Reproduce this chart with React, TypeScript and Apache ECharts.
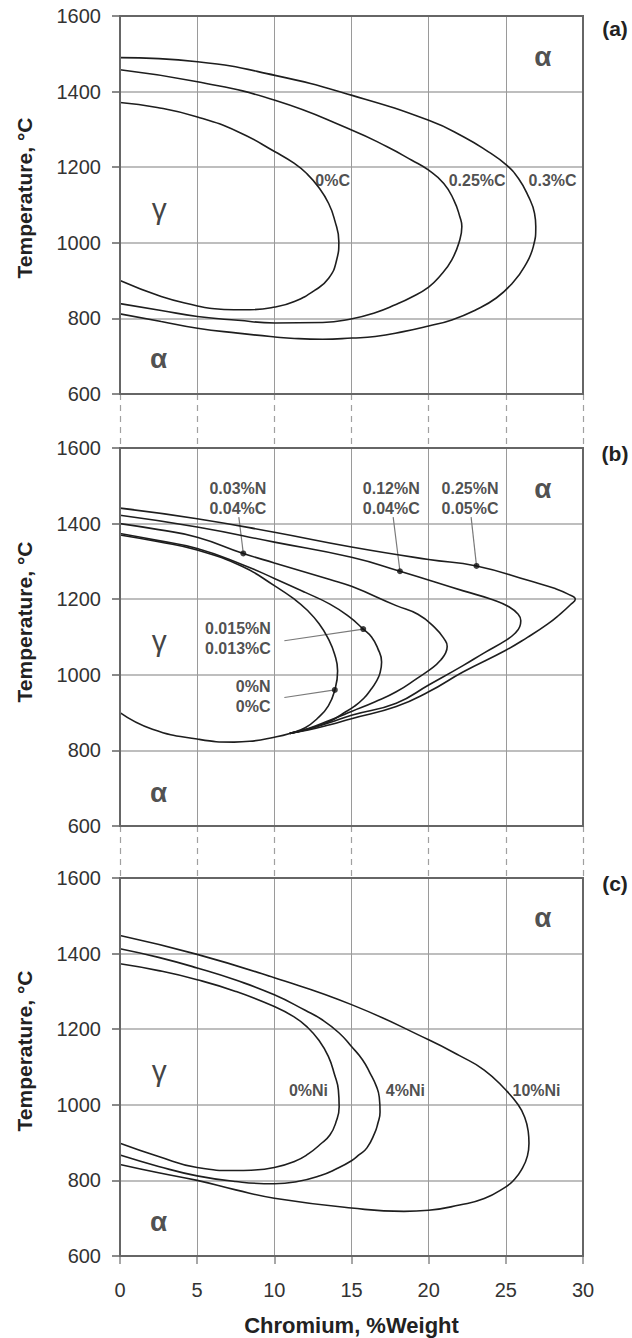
import React, { useEffect, useRef } from "react";
import * as echarts from "echarts";

type Pt = [number, number];
type Lbl = [number, number, string];

// Shared axis ranges: chromium content (wt%) vs temperature (°C)
const X_MIN = 0;
const X_MAX = 30;
const X_STEP = 5;
const T_MIN = 600;
const T_MAX = 1600;
const T_STEP = 200;

// (a) gamma loop boundaries for different carbon contents
const carbon0: Pt[] = [[0, 1371], [2.41, 1358], [5.02, 1333], [7.64, 1294], [10.04, 1241], [11.3, 1210], [12.08, 1184], [12.87, 1147], [13.52, 1104], [13.91, 1060], [14.18, 1003], [14.04, 955], [13.52, 906], [12.61, 874], [11.3, 845], [10.04, 830], [8.42, 823], [7.38, 823], [5.81, 827], [5.02, 833], [2.67, 858], [0, 900]];
const carbon025: Pt[] = [[0, 1458], [5.02, 1426], [10.04, 1377], [15.04, 1298], [17.31, 1254], [18.88, 1219], [20, 1192], [20.98, 1157], [21.63, 1113], [22.02, 1069], [22.15, 1043], [22.02, 1008], [21.5, 955], [20.71, 911], [20, 883], [18.88, 856], [17.84, 836], [16.53, 815], [15.04, 799], [13.13, 789], [10.04, 788], [7.64, 795], [5.02, 805], [2.67, 821], [0, 839]];
const carbon03: Pt[] = [[0, 1490], [5.02, 1479], [10.04, 1443], [15.04, 1390], [20, 1324], [22.28, 1280], [23.85, 1241], [25.03, 1206], [25.82, 1170], [26.47, 1122], [26.86, 1078], [26.94, 1043], [26.78, 990], [26.21, 937], [25.42, 893], [24.38, 854], [23.07, 823], [21.5, 796], [20, 780], [18.36, 765], [16.53, 752], [15.04, 748], [13.13, 745], [11.3, 747], [10.04, 751], [7.64, 761], [5.02, 774], [2.67, 792], [0, 812]];
const carbonLabels: Lbl[] = [[13.78, 1166, "0%C"], [23.14, 1166, "0.25%C"], [28.03, 1166, "0.3%C"]];

// (b) gamma loop boundaries for nitrogen + carbon additions
const nitro0: Pt[] = [[0, 1370], [2.5, 1352], [5, 1330], [7.9, 1287], [10, 1236], [11.3, 1200], [12.1, 1172], [12.9, 1135], [13.5, 1095], [13.9, 1055], [14.1, 1010], [13.92, 960], [13.5, 918], [12.8, 885], [12, 860], [11, 845], [10, 835], [8.4, 824], [7.4, 822], [5, 830], [2.1, 856], [0, 900]];
const nitro015: Pt[] = [[0, 1374], [2.5, 1355], [5, 1334], [7.9, 1292], [10, 1255], [12, 1218], [13.6, 1187], [14.8, 1155], [15.76, 1121], [16.3, 1100], [16.7, 1070], [16.95, 1034], [16.85, 1005], [16.6, 982], [16.2, 958], [15.8, 938], [15.2, 917], [14.5, 899], [13.6, 877], [12.3, 858], [11, 845]];
const nitro03: Pt[] = [[0, 1400], [2.5, 1384], [5, 1364], [7.99, 1321], [10, 1296], [13.6, 1252], [15, 1234], [17.9, 1183], [19.3, 1160], [20.4, 1125], [21.0, 1095], [21.2, 1075], [21.1, 1058], [20.8, 1040], [20.3, 1020], [19.3, 992], [17.9, 955], [16.5, 928], [15, 903], [13.6, 880], [12.2, 858], [11, 845]];
const nitro12: Pt[] = [[0, 1422], [5, 1391], [10, 1351], [15, 1311], [18.14, 1274], [22.25, 1222], [24.2, 1198], [25.2, 1180], [25.8, 1160], [25.97, 1143], [25.9, 1127], [25.6, 1110], [25, 1091], [23.6, 1058], [22.25, 1025], [20, 973], [17.9, 925], [15, 893], [13.6, 874], [12.2, 856], [11, 845]];
const nitro25: Pt[] = [[0, 1441], [5, 1413], [10, 1377], [15, 1338], [20, 1305], [23.1, 1288], [26.6, 1248], [28.2, 1228], [29.0, 1214], [29.5, 1200], [29.2, 1186], [28.5, 1160], [27.7, 1134], [26.4, 1099], [25, 1065], [22.25, 1008], [20, 955], [17.9, 916], [15, 884], [13.6, 868], [12.2, 854], [11, 845]];
const nitroDots: Pt[] = [[7.99, 1321], [18.14, 1274], [23.1, 1288], [15.76, 1121], [13.92, 960]];
const nitroLeaders: [Pt, Pt][] = [
  [[7.7, 1417], [7.99, 1321]],
  [[17.7, 1417], [18.14, 1274]],
  [[22.75, 1417], [23.1, 1288]],
  [[10.65, 1090], [15.76, 1121]],
  [[10.65, 940], [13.92, 960]],
];
const nitroLabels: Lbl[] = [
  [7.64, 1466, "0.03%N\n0.04%C"],
  [17.58, 1466, "0.12%N\n0.04%C"],
  [22.68, 1466, "0.25%N\n0.05%C"],
  [7.64, 1095, "0.015%N\n0.013%C"],
  [8.63, 942, "0%N\n0%C"],
];

// (c) gamma loop boundaries for nickel additions
const nickel0: Pt[] = [[0, 1373], [2.5, 1355], [5, 1331], [7.5, 1300], [10, 1260], [11.3, 1232], [12.1, 1207], [12.9, 1170], [13.5, 1128], [13.9, 1080], [14.15, 1039], [14.2, 995], [14.0, 955], [13.6, 920], [12.96, 895], [12.2, 870], [11.3, 850], [10, 834], [8.5, 827], [7.5, 826], [5, 834], [2.5, 863], [0, 898]];
const nickel4: Pt[] = [[0, 1413], [2.5, 1390], [5, 1362], [7.5, 1330], [10, 1291], [12, 1250], [13.1, 1225], [14.2, 1190], [15, 1154], [15.7, 1120], [16.2, 1084], [16.6, 1050], [16.8, 1020], [16.85, 981], [16.7, 950], [16.5, 925], [16, 886], [15.5, 868], [15, 852], [14, 830], [13, 813], [11.5, 797], [10, 791], [7.5, 797], [5, 812], [2.5, 837], [0, 867]];
const nickel10: Pt[] = [[0, 1448], [5, 1398], [10, 1336], [15, 1265], [20, 1172], [22, 1130], [23.6, 1092], [25, 1039], [25.8, 1000], [26.2, 969], [26.45, 930], [26.5, 898], [26.4, 865], [26, 827], [25.5, 800], [25, 783], [23.6, 752], [22, 735], [20, 721], [18.4, 718], [15, 727], [10, 753], [7.5, 775], [5, 800], [2.5, 820], [0, 842]];
const nickelLabels: Lbl[] = [[12.21, 1039, "0%Ni"], [18.49, 1039, "4%Ni"], [26.99, 1039, "10%Ni"]];

// Phase-field symbols in each panel
const phaseLabels: Lbl[][] = [
  [[27.4, 1492, "α"], [2.54, 1091, "γ"], [2.5, 695, "α"]],
  [[27.4, 1492, "α"], [2.54, 1090, "γ"], [2.5, 688, "α"]],
  [[27.4, 1495, "α"], [2.54, 1092, "γ"], [2.5, 690, "α"]],
];
const panelTags = ["(a)", "(b)", "(c)"];
const yTitle = "Temperature, °C";
const xTitle = "Chromium, %Weight";

// Layout
const WIDTH = 632;
const HEIGHT = 1338;
const GRID_LEFT = 120;
const GRID_W = 463;
const GRID_H = 378;
const GRID_TOPS = [16, 448, 878];
const Y_TITLE_CENTERS = [198, 622, 1051];
const TAG_Y = [28, 453, 883];
const FONT = '"Liberation Sans", Arial, sans-serif';
const INK = "#1e1e1e";

function curve(data: Pt[], gi: number) {
  return {
    type: "line",
    data,
    xAxisIndex: gi,
    yAxisIndex: gi,
    smooth: 0.5,
    symbol: "none",
    silent: true,
    z: 3,
    lineStyle: { color: INK, width: 1.6 },
  };
}

function textSeries(items: Lbl[], gi: number, font: Record<string, unknown>) {
  return {
    type: "scatter",
    xAxisIndex: gi,
    yAxisIndex: gi,
    silent: true,
    symbolSize: 1,
    z: 6,
    itemStyle: { color: "transparent" },
    data: items.map(([x, y, t]) => ({ value: [x, y], name: t })),
    label: {
      show: true,
      position: "inside",
      formatter: "{b}",
      color: "#222",
      fontFamily: FONT,
      align: "center",
      verticalAlign: "middle",
      ...font,
    },
  };
}

function buildOption() {
  const grid = GRID_TOPS.map((top) => ({ left: GRID_LEFT, top, width: GRID_W, height: GRID_H, show: false }));

  const xAxis = GRID_TOPS.map((_, i) => ({
    type: "value",
    gridIndex: i,
    min: X_MIN,
    max: X_MAX,
    interval: X_STEP,
    axisLine: { show: true, lineStyle: { color: "#666", width: 2 } },
    axisTick:
      i < 2
        ? { show: true, inside: false, length: 53, lineStyle: { color: "#a0a0a0", width: 1.2, type: [6, 5] } }
        : { show: true, inside: false, length: 8, lineStyle: { color: "#8a8a8a", width: 1.5 } },
    axisLabel: {
      show: i === 2,
      margin: 24,
      fontSize: 20,
      color: "#333",
      fontFamily: FONT,
      formatter: (v: number) => String(v),
    },
    splitLine: { show: true, lineStyle: { color: "#9a9a9a", width: 1 } },
  }));

  const yAxis = GRID_TOPS.map((_, i) => ({
    type: "value",
    gridIndex: i,
    min: T_MIN,
    max: T_MAX,
    interval: T_STEP,
    axisLine: { show: true, lineStyle: { color: "#666", width: 2 } },
    axisTick: { show: true, inside: false, length: 8, lineStyle: { color: "#8a8a8a", width: 2 } },
    axisLabel: {
      show: true,
      margin: 19,
      fontSize: 20,
      color: "#333",
      fontFamily: FONT,
      formatter: (v: number) => String(v),
    },
    splitLine: { show: true, lineStyle: { color: "#a8a8a8", width: 1.5 } },
  }));

  const curveLabelFont = { fontSize: 16, fontWeight: "bold", lineHeight: 20 };
  const alphaFont = { fontSize: 28, fontWeight: "bold" };

  const series: any[] = [];
  // panel (a)
  [carbon0, carbon025, carbon03].forEach((d) => series.push(curve(d, 0)));
  series.push(textSeries(carbonLabels, 0, curveLabelFont));
  // panel (b)
  [nitro0, nitro015, nitro03, nitro12, nitro25].forEach((d) => series.push(curve(d, 1)));
  nitroLeaders.forEach((seg) =>
    series.push({
      type: "line",
      data: seg,
      xAxisIndex: 1,
      yAxisIndex: 1,
      symbol: "none",
      silent: true,
      z: 2,
      lineStyle: { color: "#7a7a7a", width: 1.2 },
    })
  );
  series.push({
    type: "scatter",
    xAxisIndex: 1,
    yAxisIndex: 1,
    data: nitroDots,
    symbol: "circle",
    symbolSize: 6,
    silent: true,
    z: 5,
    itemStyle: { color: "#111" },
  });
  series.push(textSeries(nitroLabels, 1, curveLabelFont));
  // panel (c)
  [nickel0, nickel4, nickel10].forEach((d) => series.push(curve(d, 2)));
  series.push(textSeries(nickelLabels, 2, curveLabelFont));

  // phase symbols
  phaseLabels.forEach((items, gi) => {
    series.push(textSeries(items.filter((l) => l[2] === "α"), gi, alphaFont));
    series.push(textSeries(items.filter((l) => l[2] === "γ"), gi, { fontSize: 30, color: "#111" }));
  });

  const graphic: any[] = [];
  GRID_TOPS.forEach((top, i) => {
    graphic.push({
      type: "rect",
      z: 50,
      silent: true,
      shape: { x: GRID_LEFT, y: top, width: GRID_W, height: GRID_H },
      style: { fill: "none", stroke: "#666", lineWidth: 2 },
    });
    graphic.push({
      type: "text",
      z: 50,
      x: 24,
      y: Y_TITLE_CENTERS[i],
      rotation: Math.PI / 2,
      style: {
        text: yTitle,
        fill: "#222",
        font: `bold 21px ${FONT}`,
        align: "center",
        verticalAlign: "middle",
        textAlign: "center",
        textVerticalAlign: "middle",
      },
    });
    graphic.push({
      type: "text",
      z: 50,
      x: 615,
      y: TAG_Y[i],
      style: {
        text: panelTags[i],
        fill: "#222",
        font: `bold 21px ${FONT}`,
        align: "center",
        verticalAlign: "middle",
        textAlign: "center",
        textVerticalAlign: "middle",
      },
    });
  });
  graphic.push({
    type: "text",
    z: 50,
    x: GRID_LEFT + GRID_W / 2,
    y: 1325,
    style: {
      text: xTitle,
      fill: "#222",
      font: `bold 22px ${FONT}`,
      align: "center",
      verticalAlign: "middle",
      textAlign: "center",
      textVerticalAlign: "middle",
    },
  });

  return {
    animation: false,
    backgroundColor: "#fff",
    grid,
    xAxis,
    yAxis,
    series,
    graphic,
  };
}

export default function App() {
  const ref = useRef<HTMLDivElement>(null);
  useEffect(() => {
    if (!ref.current) return;
    const chart = echarts.init(ref.current, undefined, { renderer: "svg" });
    chart.setOption(buildOption() as any);
    return () => chart.dispose();
  }, []);
  return (
    <div
      ref={ref}
      style={{ position: "absolute", left: 0, top: 0, width: WIDTH, height: HEIGHT, background: "#fff" }}
    />
  );
}
